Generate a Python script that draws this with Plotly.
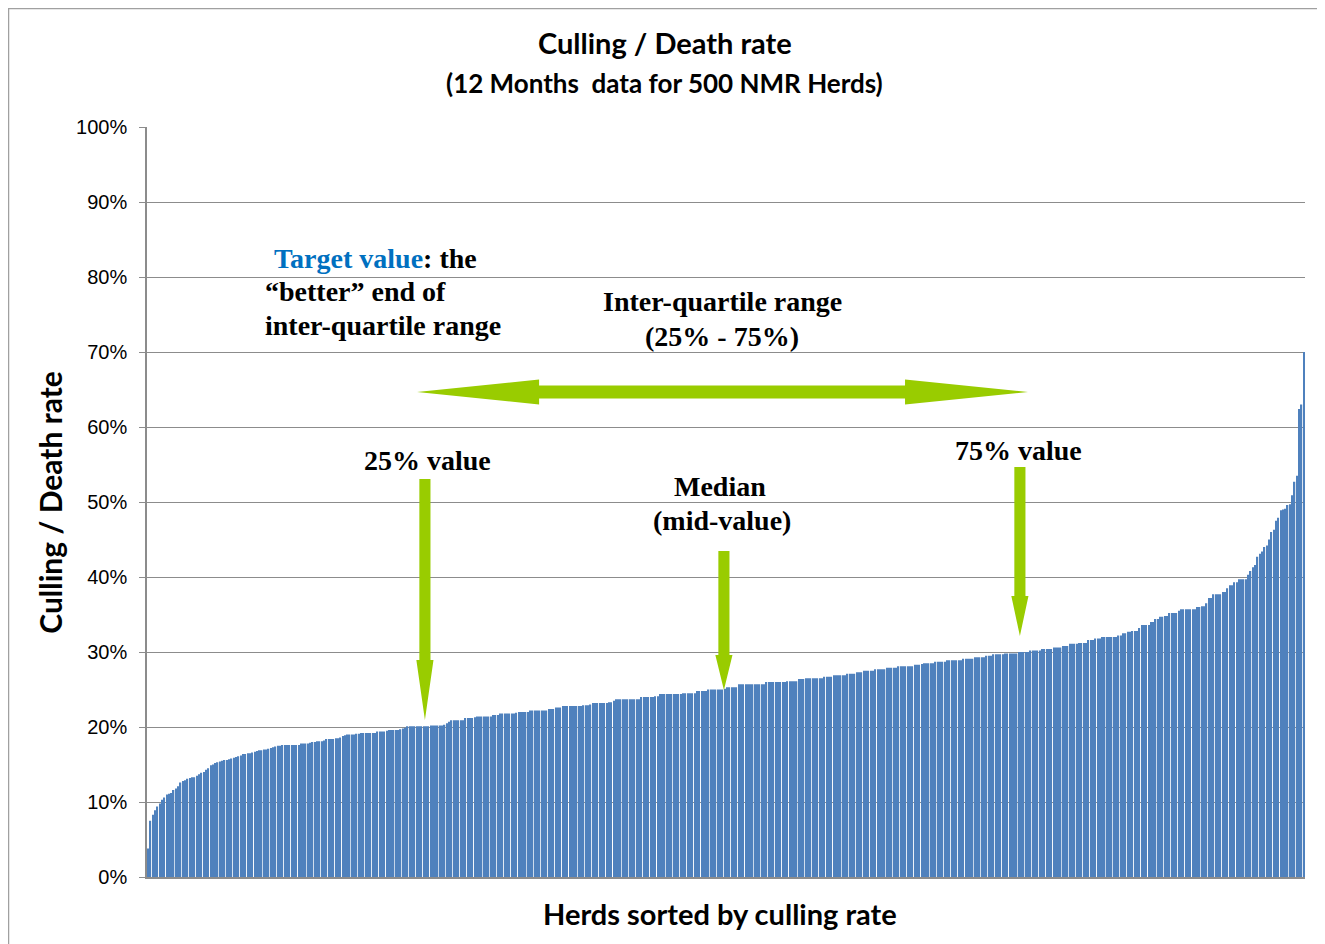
"""Culling / death rate for 500 NMR herds, sorted bar chart."""

from plotly import graph_objects as go

# culling rate (%) per herd, sorted ascending
culling_rate = [
    3.8, 7.5, 8.3, 8.9, 9.4, 9.8, 10.3, 10.6, 11.0, 11.1,
    11.2, 11.6, 11.8, 12.1, 12.6, 12.8, 12.9, 13.1, 13.2, 13.3,
    13.3, 13.5, 13.7, 13.9, 14.0, 14.3, 14.5, 14.9, 15.0, 15.2,
    15.3, 15.4, 15.5, 15.6, 15.6, 15.7, 15.8, 15.9, 16.0, 16.1,
    16.2, 16.4, 16.4, 16.5, 16.5, 16.6, 16.7, 16.8, 16.9, 16.9,
    17.0, 17.0, 17.1, 17.2, 17.3, 17.4, 17.5, 17.5, 17.6, 17.6,
    17.6, 17.6, 17.6, 17.6, 17.6, 17.6, 17.8, 17.8, 17.8, 17.8,
    17.9, 18.0, 18.0, 18.1, 18.1, 18.1, 18.2, 18.4, 18.4, 18.4,
    18.4, 18.5, 18.5, 18.6, 18.8, 18.9, 19.0, 19.0, 19.0, 19.0,
    19.1, 19.1, 19.2, 19.2, 19.2, 19.2, 19.2, 19.2, 19.2, 19.4,
    19.4, 19.4, 19.4, 19.5, 19.6, 19.6, 19.6, 19.6, 19.6, 19.7,
    19.8, 19.9, 20.1, 20.1, 20.1, 20.1, 20.1, 20.1, 20.1, 20.1,
    20.1, 20.1, 20.2, 20.2, 20.2, 20.2, 20.2, 20.2, 20.3, 20.5,
    20.7, 20.9, 20.9, 20.9, 20.9, 20.9, 20.9, 21.2, 21.2, 21.2,
    21.2, 21.3, 21.4, 21.4, 21.4, 21.4, 21.4, 21.4, 21.4, 21.6,
    21.6, 21.6, 21.8, 21.8, 21.8, 21.8, 21.8, 21.8, 21.8, 21.9,
    22.0, 22.0, 22.0, 22.0, 22.0, 22.2, 22.2, 22.2, 22.2, 22.2,
    22.2, 22.2, 22.2, 22.4, 22.4, 22.4, 22.6, 22.6, 22.6, 22.8,
    22.8, 22.8, 22.8, 22.8, 22.8, 22.8, 22.8, 22.8, 22.9, 22.9,
    22.9, 23.0, 23.2, 23.2, 23.2, 23.2, 23.2, 23.2, 23.2, 23.3,
    23.3, 23.5, 23.7, 23.7, 23.7, 23.7, 23.7, 23.7, 23.7, 23.7,
    23.7, 23.7, 23.7, 24.0, 24.0, 24.0, 24.0, 24.0, 24.0, 24.1,
    24.1, 24.4, 24.4, 24.4, 24.4, 24.4, 24.4, 24.4, 24.4, 24.4,
    24.4, 24.5, 24.5, 24.5, 24.5, 24.5, 24.5, 24.8, 24.8, 24.8,
    24.8, 24.8, 25.0, 25.0, 25.0, 25.0, 25.0, 25.0, 25.0, 25.1,
    25.3, 25.3, 25.3, 25.3, 25.3, 25.7, 25.7, 25.7, 25.7, 25.7,
    25.7, 25.7, 25.7, 25.7, 25.7, 25.7, 25.7, 26.0, 26.0, 26.0,
    26.0, 26.0, 26.0, 26.0, 26.0, 26.0, 26.1, 26.1, 26.1, 26.1,
    26.1, 26.4, 26.4, 26.4, 26.5, 26.5, 26.5, 26.5, 26.5, 26.5,
    26.5, 26.5, 26.7, 26.7, 26.7, 26.7, 26.9, 26.9, 26.9, 26.9,
    26.9, 26.9, 27.1, 27.1, 27.1, 27.1, 27.3, 27.3, 27.3, 27.5,
    27.5, 27.5, 27.5, 27.5, 27.7, 27.7, 27.7, 27.7, 27.7, 27.9,
    27.9, 27.9, 27.9, 27.9, 28.1, 28.1, 28.1, 28.1, 28.1, 28.1,
    28.1, 28.3, 28.3, 28.3, 28.4, 28.5, 28.5, 28.5, 28.5, 28.5,
    28.7, 28.7, 28.7, 28.7, 28.7, 28.9, 28.9, 28.9, 28.9, 28.9,
    28.9, 28.9, 29.1, 29.1, 29.1, 29.1, 29.1, 29.3, 29.3, 29.3,
    29.3, 29.3, 29.5, 29.5, 29.5, 29.7, 29.7, 29.7, 29.7, 29.7,
    29.8, 29.8, 29.8, 29.8, 29.8, 29.8, 30.0, 30.0, 30.0, 30.0,
    30.0, 30.2, 30.2, 30.2, 30.2, 30.2, 30.4, 30.4, 30.4, 30.4,
    30.4, 30.6, 30.6, 30.6, 30.6, 30.8, 30.8, 30.8, 31.1, 31.1,
    31.1, 31.1, 31.2, 31.2, 31.2, 31.2, 31.6, 31.6, 31.6, 31.8,
    31.8, 31.8, 32.0, 32.0, 32.0, 32.0, 32.0, 32.0, 32.0, 32.2,
    32.2, 32.5, 32.5, 32.7, 32.7, 32.8, 32.8, 32.8, 33.2, 33.6,
    33.6, 33.6, 33.6, 34.0, 34.0, 34.4, 34.4, 34.7, 34.7, 34.8,
    34.8, 35.2, 35.2, 35.2, 35.2, 35.5, 35.7, 35.7, 35.7, 35.7,
    35.7, 35.7, 35.7, 36.0, 36.0, 36.1, 36.1, 36.5, 37.2, 37.2,
    37.7, 37.7, 37.7, 37.7, 38.0, 38.0, 38.5, 38.9, 38.9, 39.3,
    39.3, 39.7, 39.7, 39.7, 39.7, 40.3, 40.8, 41.3, 41.6, 42.7,
    43.1, 43.4, 44.0, 44.2, 45.0, 46.0, 46.3, 47.5, 47.9, 48.9,
    49.0, 49.1, 49.6, 49.7, 50.9, 52.7, 53.5, 62.4, 63.0, 70.0,
]
herd_index = list(range(len(culling_rate)))
y_ticks = list(range(0, 101, 10))
y_tick_labels = [f"{v}%" for v in y_ticks]

GREEN = "#99CC00"
GRID = "#8C8C8C"
SERIF = "Liberation Serif, Times New Roman, serif"
SANS = "Lato, Open Sans, sans-serif"


def down_arrow(x, top, base, tip, shaft=2.4, head=3.7):
    return (
        f"M {x - shaft},{top} L {x + shaft},{top} L {x + shaft},{base} "
        f"L {x + head},{base} L {x},{tip} L {x - head},{base} "
        f"L {x - shaft},{base} Z"
    )


def double_arrow(x0, b0, b1, x1, y, shaft=0.87, head=1.67):
    return (
        f"M {x0},{y} L {b0},{y + head} L {b0},{y + shaft} L {b1},{y + shaft} "
        f"L {b1},{y + head} L {x1},{y} L {b1},{y - head} L {b1},{y - shaft} "
        f"L {b0},{y - shaft} L {b0},{y - head} Z"
    )


fig = go.Figure(
    go.Bar(
        x=herd_index,
        y=culling_rate,
        marker={"color": "#4F81BD", "line": {"width": 0}},
        hoverinfo="skip",
    )
)

arrow_paths = [
    double_arrow(116.1, 168.8, 326.8, 379.9, 64.67),
    down_arrow(119.5, 53.07, 28.93, 20.93),
    down_arrow(248.6, 43.47, 29.6, 24.93),
    down_arrow(376.4, 54.67, 37.47, 32.13),
]
shapes = [
    {
        "type": "path", "path": p, "xref": "x", "yref": "y",
        "fillcolor": GREEN, "line": {"width": 0},
    }
    for p in arrow_paths
]
# outer chart border
shapes.append(
    {
        "type": "rect", "xref": "paper", "yref": "paper",
        "x0": -0.1196, "x1": 1.0147, "y0": -0.12, "y1": 1.158,
        "line": {"color": "#A0A0A0", "width": 1.5}, "layer": "below",
    }
)

bold = {"family": SERIF, "size": 28, "color": "black"}
text_notes = [
    ("<b><span style='color:#0070C0'>Target value</span>: the</b>", 53.5, 82.53, "left"),
    ("<b>“better” end of</b>", 49.6, 78.13, "left"),
    ("<b>inter-quartile range</b>", 49.6, 73.47, "left"),
    ("<b>Inter-quartile range</b>", 248.2, 76.67, "center"),
    ("<b>(25% - 75%)</b>", 247.8, 72.13, "center"),
    ("<b>25% value</b>", 120.8, 55.47, "center"),
    ("<b>Median</b>", 246.9, 52.13, "center"),
    ("<b>(mid-value)</b>", 247.8, 47.6, "center"),
    ("<b>75% value</b>", 375.6, 56.93, "center"),
]
annotations = [
    {
        "text": t, "x": x, "y": y, "xref": "x", "yref": "y",
        "xanchor": a, "yanchor": "middle", "showarrow": False, "font": bold,
    }
    for t, x, y, a in text_notes
]
annotations += [
    {
        "text": "<b>Culling / Death rate</b>", "xref": "paper", "yref": "paper",
        "x": 0.447, "y": 1.1133, "yanchor": "middle", "showarrow": False,
        "font": {"family": SANS, "size": 29, "color": "black"},
    },
    {
        "text": "<b>(12 Months  data for 500 NMR Herds)</b>", "xref": "paper",
        "yref": "paper", "x": 0.447, "y": 1.0587, "yanchor": "middle",
        "showarrow": False,
        "font": {"family": SANS, "size": 26, "color": "black"},
    },
    {
        "text": "<b>Herds sorted by culling rate</b>", "xref": "paper",
        "yref": "paper", "x": 0.495, "y": -0.0493, "yanchor": "middle",
        "showarrow": False,
        "font": {"family": SANS, "size": 29, "color": "black"},
    },
    {
        "text": "<b>Culling / Death rate</b>", "xref": "paper", "yref": "paper",
        "x": -0.084, "y": 0.5, "xanchor": "center", "yanchor": "middle",
        "textangle": -90, "showarrow": False,
        "font": {"family": SANS, "size": 30, "color": "black"},
    },
]

# page body has an 8px margin, so the figure is trimmed by that much
fig.update_layout(
    width=1317,
    height=936,
    margin={"l": 139, "r": 20, "t": 119, "b": 67},
    paper_bgcolor="white",
    plot_bgcolor="white",
    showlegend=False,
    bargap=0.42,
    shapes=shapes,
    annotations=annotations,
)
fig.update_xaxes(
    range=[-0.5, len(culling_rate) - 0.5],
    showticklabels=False,
    showgrid=False,
    zeroline=False,
    showline=True,
    linecolor=GRID,
    linewidth=1.5,
    ticks="",
)
fig.update_yaxes(
    range=[0, 100],
    tickvals=y_ticks,
    ticktext=y_tick_labels,
    tickfont={"family": "Liberation Sans, Arial, sans-serif", "size": 20, "color": "black"},
    showgrid=True,
    gridcolor=GRID,
    gridwidth=1,
    zeroline=False,
    showline=True,
    linecolor=GRID,
    linewidth=1.5,
    ticks="outside",
    ticklen=6,
    tickcolor=GRID,
    ticklabelstandoff=8,
)

fig.write_html("out.html")
